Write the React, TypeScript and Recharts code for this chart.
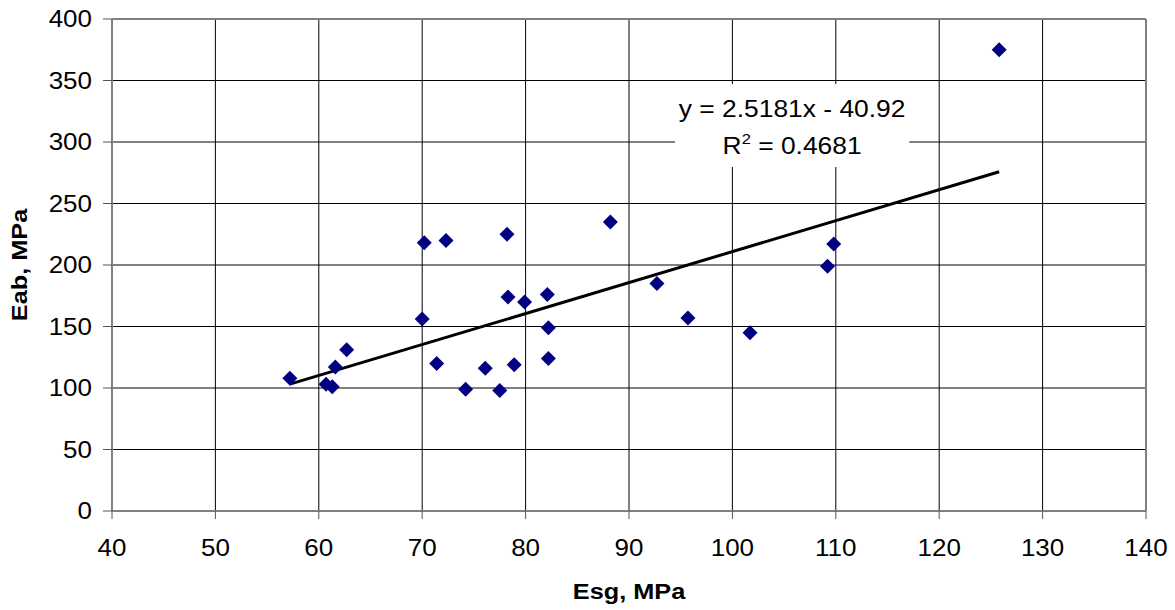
import { ScatterChart, Scatter, XAxis, YAxis, CartesianGrid, ReferenceLine, ReferenceArea, Label } from 'recharts'

// Esg vs Eab points
const esg = [57.2, 60.7, 61.3, 61.6, 62.7, 70.2, 72.3, 78.2, 70.0, 71.4, 74.2, 76.1, 77.5, 78.9, 78.3, 79.9, 82.1, 82.2, 82.2, 88.2, 92.7, 95.7, 101.7, 109.8, 109.2, 125.8]
const eab = [108, 103, 101, 117, 131, 218, 220, 225, 156, 120, 99, 116, 98, 119, 174, 170, 176, 149, 124, 235, 185, 157, 145, 217, 199, 375]

const xTicks = [40, 50, 60, 70, 80, 90, 100, 110, 120, 130, 140]
const yTicks = [0, 50, 100, 150, 200, 250, 300, 350, 400]

// linear trend as printed on the chart
const slope = 2.5181
const intercept = -40.92
const r2 = 0.4681

const FONT = '"Liberation Sans", Arial, sans-serif'
const STRETCH = 'scale(1.13,1)'

const points = esg.map((x, i) => ({ x, y: eab[i] }))
const xMin = Math.min(...esg)
const xMax = Math.max(...esg)
const trend = [xMin, xMax].map(x => ({ x, y: slope * x + intercept }))

const Diamond = ({ cx, cy }: any) => (
  <polygon points={`${cx},${cy - 7.5} ${cx + 7.5},${cy} ${cx},${cy + 7.5} ${cx - 7.5},${cy}`} fill="#000080" />
)

const XTick = ({ x, y, payload }: any) => (
  <g transform={`translate(${x},${y})`}>
    <text transform={STRETCH} textAnchor="middle" dy="0.72em" fontSize={23} fill="#000" fontFamily={FONT}>{payload.value}</text>
  </g>
)

const YTick = ({ x, y, payload }: any) => (
  <g transform={`translate(${x},${y})`}>
    <text transform={STRETCH} textAnchor="end" dy="0.36em" fontSize={23} fill="#000" fontFamily={FONT}>{payload.value}</text>
  </g>
)

const EquationLabel = ({ viewBox }: any) => {
  const cx = viewBox.x + viewBox.width / 2
  const top = viewBox.y
  return (
    <g fontFamily={FONT} fontSize={24} fill="#000">
      <text transform={`translate(${cx},${top + 33}) scale(1.1,1)`} textAnchor="middle">
        {`y = ${slope}x - ${Math.abs(intercept)}`}
      </text>
      <text transform={`translate(${cx},${top + 70}) scale(1.1,1)`} textAnchor="middle">
        R<tspan fontSize={15} dy={-10}>2</tspan><tspan dy={10}>{` = ${r2}`}</tspan>
      </text>
    </g>
  )
}

export default function App() {
  return (
    <div style={{ position: 'absolute', left: 0, top: 0, background: '#fff' }}>
      <ScatterChart width={1175} height={610} margin={{ top: 19, right: 29, left: 0, bottom: 0 }}>
        <CartesianGrid stroke="#000" strokeWidth={1} />
        <XAxis
          type="number" dataKey="x" domain={[40, 140]} ticks={xTicks} height={99}
          axisLine={{ stroke: '#808080', strokeWidth: 2 }} tickLine={{ stroke: '#555' }}
          tickSize={8} tickMargin={20} tick={<XTick />} interval={0}
        >
          <Label content={({ viewBox }: any) => (
            <text transform={`translate(${viewBox.x + viewBox.width / 2},${viewBox.y + 88}) scale(1.15,1)`}
              textAnchor="middle" fontSize={22} fontWeight="bold" fontFamily={FONT} fill="#000">Esg, MPa</text>
          )} />
        </XAxis>
        <YAxis
          type="number" dataKey="y" domain={[0, 400]} ticks={yTicks} width={112}
          axisLine={{ stroke: '#808080', strokeWidth: 2 }} tickLine={{ stroke: '#555' }}
          tickSize={9} tickMargin={11} tick={<YTick />} interval={0}
        >
          <Label content={({ viewBox }: any) => (
            <text transform={`translate(19,${viewBox.y + viewBox.height / 2}) rotate(-90) scale(1.15,1)`}
              textAnchor="middle" dy="0.36em" fontSize={22} fontWeight="bold" fontFamily={FONT} fill="#000">Eab, MPa</text>
          )} />
        </YAxis>
        <ReferenceLine y={400} stroke="#808080" strokeWidth={2} />
        <ReferenceLine x={140} stroke="#808080" strokeWidth={2} />
        <ReferenceArea x1={94.45} x2={117.1} y1={279.7} y2={347.2} fill="#fff" fillOpacity={1} stroke="none" label={<EquationLabel />} />
        <Scatter data={trend} line={{ stroke: '#000', strokeWidth: 3 }} shape={() => <g />} isAnimationActive={false} />
        <Scatter data={points} shape={<Diamond />} isAnimationActive={false} />
      </ScatterChart>
    </div>
  )
}
